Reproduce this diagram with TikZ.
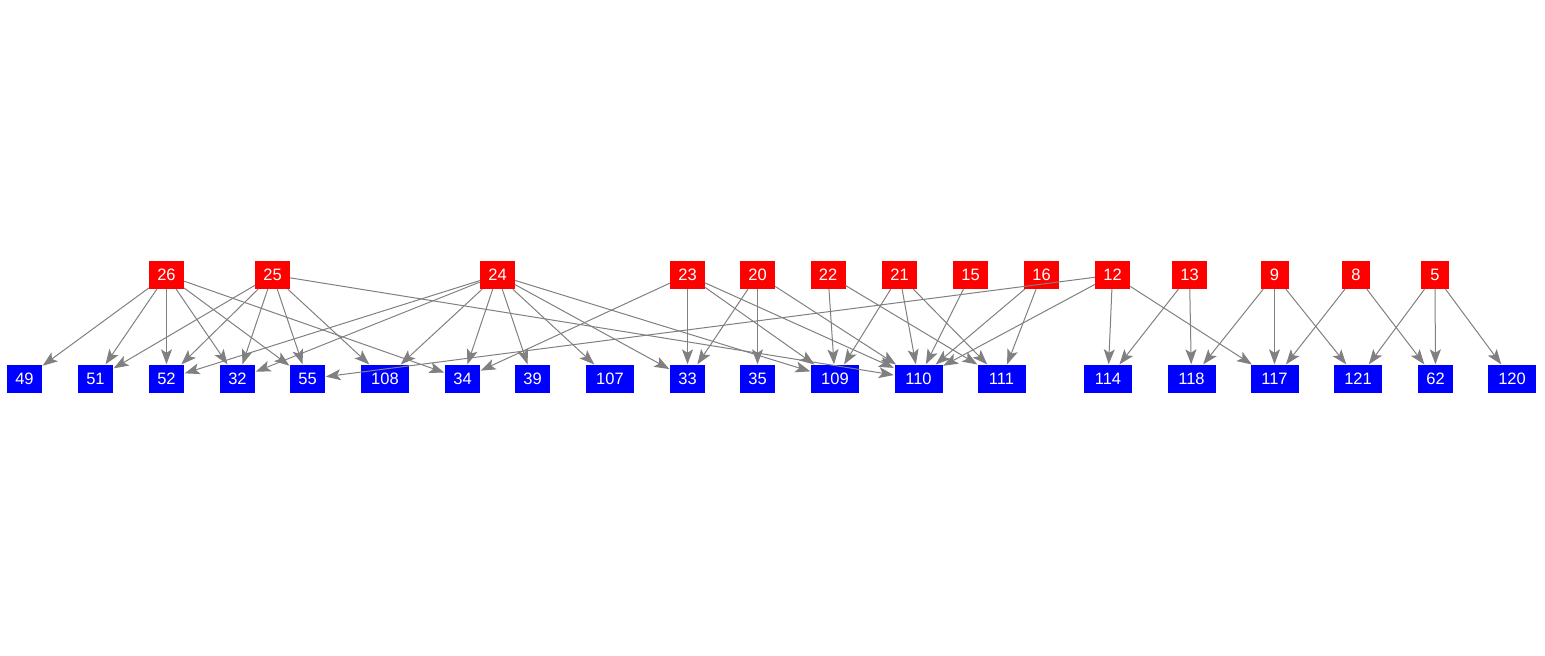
\documentclass[tikz,border=0pt]{standalone}
\usepackage{fontspec}
\setmainfont{Liberation Sans}
\usetikzlibrary{arrows.meta}
\definecolor{nred}{HTML}{FF0000}
\definecolor{nblue}{HTML}{0000FF}
\definecolor{egray}{HTML}{808080}
\tikzset{
  box/.style={inner sep=0pt, minimum height=28pt, text=white, font=\fontsize{16.5}{16.5}\selectfont},
  src/.style={box, fill=nred, minimum width=35pt},
  srcone/.style={box, fill=nred, minimum width=28pt},
  dst/.style={box, fill=nblue, minimum width=35pt},
  dstthree/.style={box, fill=nblue, minimum width=48pt},
  edge/.style={draw=egray, line width=1pt, -{Stealth[length=15pt,width=11pt,inset=3.5pt]}, shorten >=0.5pt}
}
\begin{document}
\begin{tikzpicture}[x=1pt,y=-1pt]
\useasboundingbox (0,0) rectangle (1545,656);
% top nodes
\node[src] (t26) at (166.5,275) {26};
\node[src] (t25) at (272.5,275) {25};
\node[src] (t24) at (497.5,275) {24};
\node[src] (t23) at (687.5,275) {23};
\node[src] (t20) at (757.5,275) {20};
\node[src] (t22) at (828,275) {22};
\node[src] (t21) at (899.5,275) {21};
\node[src] (t15) at (970.5,275) {15};
\node[src] (t16) at (1041.5,275) {16};
\node[src] (t12) at (1112.5,275) {12};
\node[src] (t13) at (1189.5,275) {13};
\node[srcone] (t9) at (1274.5,275) {9};
\node[srcone] (t8) at (1356,275) {8};
\node[srcone] (t5) at (1435,275) {5};
% bottom nodes
\node[dst] (b49) at (24.5,379) {49};
\node[dst] (b51) at (95.5,379) {51};
\node[dst] (b52) at (166.5,379) {52};
\node[dst] (b32) at (237.5,379) {32};
\node[dst] (b55) at (307.5,379) {55};
\node[dstthree] (b108) at (385,379) {108};
\node[dst] (b34) at (462.5,379) {34};
\node[dst] (b39) at (532.5,379) {39};
\node[dstthree] (b107) at (610,379) {107};
\node[dst] (b33) at (687.5,379) {33};
\node[dst] (b35) at (757.5,379) {35};
\node[dstthree] (b109) at (835,379) {109};
\node[dstthree] (b110) at (918.5,379) {110};
\node[dstthree] (b111) at (1001.5,379) {111};
\node[dstthree] (b114) at (1108,379) {114};
\node[dstthree] (b118) at (1191.5,379) {118};
\node[dstthree] (b117) at (1274.5,379) {117};
\node[dstthree] (b121) at (1358,379) {121};
\node[dst] (b62) at (1435.5,379) {62};
\node[dstthree] (b120) at (1512,379) {120};
% edges
\foreach \s/\t in {26/49,26/51,26/52,26/32,26/55,26/34,
  25/51,25/52,25/32,25/55,25/108,25/110,
  24/52,24/32,24/108,24/34,24/39,24/107,24/33,24/109,
  23/34,23/33,23/109,23/110,
  20/33,20/35,20/110,
  22/109,22/111,
  21/109,21/110,21/111,
  15/110,
  16/110,16/111,
  12/55,12/110,12/114,12/117,
  13/114,13/118,
  9/118,9/117,9/121,
  8/117,8/62,
  5/121,5/62,5/120}
  \draw[edge] (t\s) -- (b\t);
\end{tikzpicture}
\end{document}
